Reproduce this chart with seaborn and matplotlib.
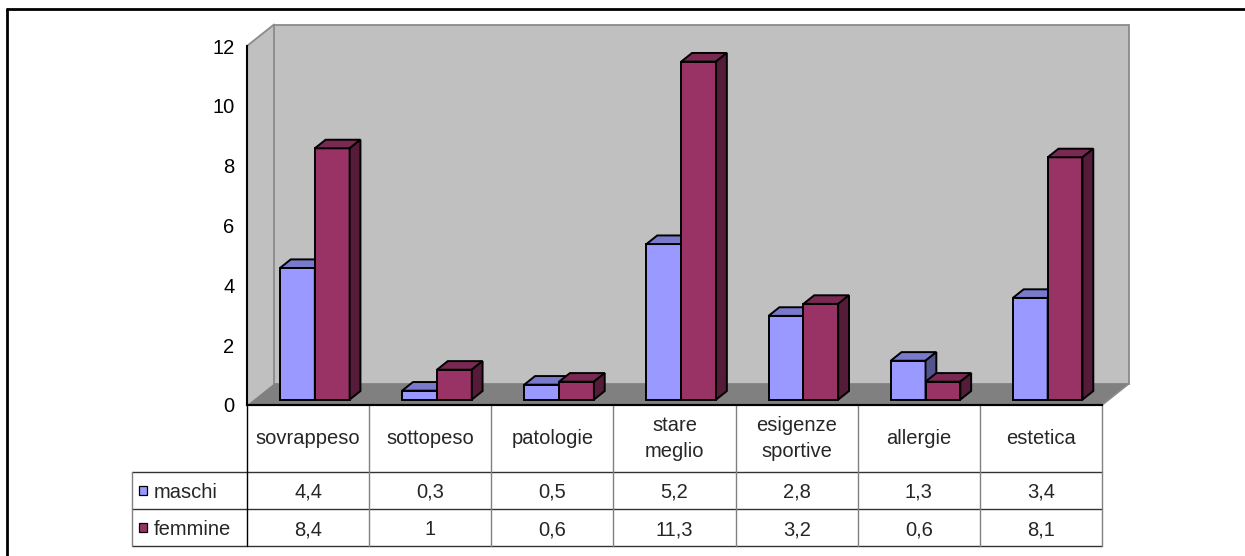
import matplotlib
matplotlib.use("Agg")
import matplotlib.pyplot as plt
from matplotlib.patches import Polygon, Rectangle
from matplotlib.lines import Line2D
from matplotlib.colors import to_rgb
import pandas as pd
import seaborn as sns

# ---- data -------------------------------------------------------------
categories = ["sovrappeso", "sottopeso", "patologie", "stare\nmeglio",
              "esigenze\nsportive", "allergie", "estetica"]
maschi = [4.4, 0.3, 0.5, 5.2, 2.8, 1.3, 3.4]
femmine = [8.4, 1.0, 0.6, 11.3, 3.2, 0.6, 8.1]
series_names = ["maschi", "femmine"]
y_ticks = [0, 2, 4, 6, 8, 10, 12]

palette = {"maschi": "#9999FF", "femmine": "#993366"}

df = pd.DataFrame({
    "categoria": categories * 2,
    "valore": maschi + femmine,
    "serie": [series_names[0]] * len(categories) + [series_names[1]] * len(categories),
})

sns.set_style("white")
plt.rcParams["font.family"] = ["Liberation Sans", "DejaVu Sans"]
FS = 14.5

W, H = 1245, 556
fig = plt.figure(figsize=(W / 100, H / 100), dpi=100)
fig.patch.set_facecolor("white")

# plot area: category axis from px 247 to 1102, value axis from px 405 up to 46
ax = fig.add_axes([247 / W, 1 - 405 / H, (1102 - 247) / W, (405 - 46) / H])
n = len(categories)
ax.set_xlim(-0.5, n - 0.5)
ax.set_ylim(0, max(y_ticks))
ax.set_facecolor("none")

# pixel -> data unit factors
ppx = ax.bbox.width / n
ppy = ax.bbox.height / max(y_ticks)

# depth of the 3D box (floor / back wall offset)
dX, dY = 27 / ppx, 21.5 / ppy
x0, x1 = -0.5, n - 0.5
ytop = max(y_ticks)

wall_c, floor_c, wall_edge = "#C0C0C0", "#808080", "#8A8A8A"
# left wall
ax.add_patch(Polygon([(x0, 0), (x0 + dX, dY), (x0 + dX, ytop + dY), (x0, ytop)],
                     closed=True, facecolor=wall_c, edgecolor="none",
                     zorder=0.5, clip_on=False))
# back wall
ax.add_patch(Rectangle((x0 + dX, dY), x1 - x0, ytop, facecolor=wall_c,
                       edgecolor=wall_edge, linewidth=1.3, zorder=0.6, clip_on=False))
ax.plot([x0, x0 + dX], [ytop, ytop + dY], color=wall_edge, lw=1.3,
        zorder=0.7, clip_on=False)
# floor
ax.add_patch(Polygon([(x0, 0), (x1, 0), (x1 + dX, dY), (x0 + dX, dY)],
                     closed=True, facecolor=floor_c, edgecolor="none",
                     zorder=0.8, clip_on=False))
ax.plot([x1, x1 + dX], [0, dY], color=wall_edge, lw=1.3, zorder=0.9, clip_on=False)

# ---- bars ---------------------------------------------------------------
BAR_LW = 1.4
sns.barplot(data=df, x="categoria", y="valore", hue="serie", order=categories,
            hue_order=series_names, palette=palette, saturation=1, width=0.57,
            edgecolor="black", linewidth=BAR_LW, legend=False, ax=ax, zorder=3)

front = 0.25   # bars start a quarter into the floor depth
depth = 0.4    # bar depth as a share of the floor depth


def shade(c, f):
    r, g, b = to_rgb(c)
    return (r * f, g * f, b * f)


for k, (name, cont) in enumerate(zip(series_names, ax.containers)):
    z = 3 + k
    col = palette[name]
    for p in cont.patches:
        p.set_x(p.get_x() + front * dX)
        p.set_y(front * dY)
        p.set_zorder(z)
        bx0 = p.get_x()
        bx1 = bx0 + p.get_width()
        by0 = p.get_y()
        by1 = by0 + p.get_height()
        ex, ey = depth * dX, depth * dY
        ax.add_patch(Polygon([(bx0, by1), (bx1, by1), (bx1 + ex, by1 + ey), (bx0 + ex, by1 + ey)],
                             closed=True, facecolor=shade(col, 0.8), edgecolor="black",
                             linewidth=BAR_LW, joinstyle="miter", zorder=z, clip_on=False))
        ax.add_patch(Polygon([(bx1, by0), (bx1 + ex, by0 + ey), (bx1 + ex, by1 + ey), (bx1, by1)],
                             closed=True, facecolor=shade(col, 0.55), edgecolor="black",
                             linewidth=BAR_LW, joinstyle="miter", zorder=z, clip_on=False))

# ---- value axis ---------------------------------------------------------
for s in ["top", "right"]:
    ax.spines[s].set_visible(False)
for s in ["left", "bottom"]:
    ax.spines[s].set_color("black")
    ax.spines[s].set_linewidth(1.5)
    ax.spines[s].set_zorder(6)
ax.set_yticks(y_ticks)
ax.set_yticklabels([str(t) for t in y_ticks])
ax.tick_params(axis="y", direction="out", length=6, width=1.1, pad=3,
               labelsize=FS, colors="black")
ax.set_xticks([])
ax.set_xlabel("")
ax.set_ylabel("")

# ---- data table ---------------------------------------------------------
header_h = 67 / ppy
row_h = 37 / ppy
legend_w = 115 / ppx
y_rows = [0, -header_h, -header_h - row_h, -header_h - 2 * row_h]
xl = x0 - legend_w
grid_c = "#333333"
vgrid_c = "#808080"

# horizontal rules
ax.plot([x0, x1], [0, 0], color="black", lw=1.5, clip_on=False, zorder=6)
for yv in y_rows[1:]:
    ax.plot([xl, x1], [yv, yv], color=grid_c, lw=1.0, clip_on=False)
# vertical rules
ax.plot([xl, xl], [y_rows[1], y_rows[3]], color=vgrid_c, lw=1.0, clip_on=False)
ax.plot([x0, x0], [0, y_rows[3]], color="black", lw=1.0, clip_on=False)
for i in range(1, n + 1):
    ax.plot([x0 + i, x0 + i], [0, y_rows[3]], color=vgrid_c, lw=1.0, clip_on=False)

# header labels
for i, c in enumerate(categories):
    ax.text(i, -header_h / 2, c, ha="center", va="center", fontsize=FS,
            linespacing=1.5, clip_on=False)


def fmt(v):
    return f"{v:g}".replace(".", ",")


for r, (name, vals) in enumerate(zip(series_names, [maschi, femmine])):
    yc = (y_rows[r + 1] + y_rows[r + 2]) / 2
    for i, v in enumerate(vals):
        ax.text(i, yc, fmt(v), ha="center", va="center_baseline", fontsize=FS,
                clip_on=False)
    key = 8.5
    ax.add_patch(Rectangle((xl + 7 / ppx, yc - key / 2 / ppy), key / ppx, key / ppy,
                           facecolor=palette[name], edgecolor="black", linewidth=0.9,
                           clip_on=False))
    ax.text(xl + 22 / ppx, yc, name, ha="left", va="center_baseline", fontsize=FS,
            clip_on=False)

# frame lines along the top and left edges of the image
fig.add_artist(Line2D([6.5 / W, 1], [1 - 8.5 / H, 1 - 8.5 / H], color="black", lw=2.0,
                      transform=fig.transFigure))
fig.add_artist(Line2D([6.5 / W, 6.5 / W], [0, 1 - 8.5 / H], color="black", lw=2.0,
                      transform=fig.transFigure))

fig.savefig("out.png", dpi=100, facecolor="white")
